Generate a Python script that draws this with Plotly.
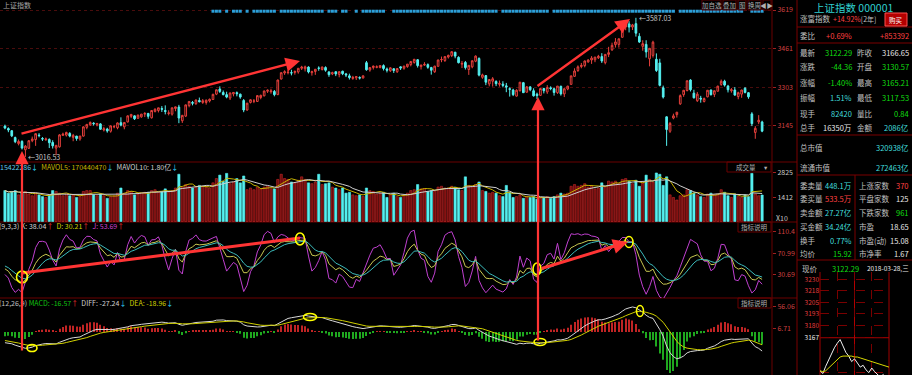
import plotly.graph_objects as go
import pandas as pd

W, H = 912, 375
FONT = "Noto Sans CJK SC, DejaVu Sans, sans-serif"

# ---------------- data ----------------
opens = [3143, 3133, 3124, 3096, 3071, 3080, 3046, 3052, 3083, 3088,
         3106, 3092, 3087, 3088, 3076, 3053, 3058, 3105, 3106, 3113,
         3097, 3102, 3090, 3102, 3138, 3148, 3155, 3148, 3152, 3127,
         3131, 3122, 3140, 3136, 3157, 3140, 3160, 3183, 3185, 3175,
         3181, 3192, 3195, 3177, 3203, 3207, 3215, 3207, 3195, 3192,
         3215, 3221, 3165, 3184, 3227, 3240, 3235, 3248, 3240, 3240,
         3246, 3252, 3274, 3295, 3281, 3272, 3258, 3275, 3280, 3274,
         3248, 3209, 3240, 3245, 3244, 3260, 3267, 3286, 3284, 3285,
         3272, 3336, 3361, 3362, 3362, 3363, 3365, 3380, 3378, 3385,
         3362, 3367, 3381, 3375, 3383, 3365, 3357, 3366, 3355, 3368,
         3357, 3349, 3338, 3341, 3342, 3340, 3403, 3373, 3383, 3384,
         3383, 3391, 3377, 3370, 3378, 3366, 3386, 3380, 3387, 3395,
         3404, 3415, 3387, 3393, 3395, 3383, 3366, 3388, 3415, 3412,
         3426, 3432, 3446, 3425, 3397, 3404, 3375, 3386, 3409, 3420,
         3343, 3350, 3316, 3327, 3326, 3314, 3315, 3308, 3296, 3291,
         3266, 3288, 3321, 3282, 3304, 3288, 3274, 3269, 3297, 3283,
         3300, 3296, 3280, 3306, 3275, 3295, 3314, 3347, 3371, 3387,
         3391, 3406, 3414, 3415, 3423, 3428, 3403, 3437, 3456, 3477,
         3478, 3507, 3549, 3562, 3549, 3563, 3511, 3470, 3478, 3419,
         3433, 3417, 3402, 3300, 3181, 3122, 3176, 3190, 3234, 3272,
         3289, 3332, 3278, 3247, 3257, 3244, 3263, 3291, 3273, 3286,
         3314, 3327, 3307, 3288, 3291, 3264, 3274, 3298, 3280, 3193,
         3117, 3160, 3160]
highs = [3149, 3138, 3127, 3100, 3088, 3085, 3065, 3086, 3100, 3113,
         3114, 3098, 3096, 3093, 3085, 3066, 3110, 3116, 3120, 3118,
         3111, 3103, 3103, 3142, 3151, 3162, 3159, 3155, 3155, 3140,
         3136, 3146, 3148, 3158, 3179, 3158, 3187, 3191, 3187, 3190,
         3193, 3200, 3197, 3208, 3216, 3218, 3225, 3228, 3208, 3219,
         3223, 3230, 3189, 3231, 3245, 3246, 3252, 3260, 3254, 3252,
         3256, 3276, 3293, 3306, 3289, 3284, 3280, 3282, 3285, 3276,
         3254, 3238, 3253, 3254, 3270, 3272, 3288, 3293, 3296, 3291,
         3333, 3363, 3372, 3374, 3374, 3371, 3380, 3390, 3391, 3388,
         3370, 3377, 3388, 3387, 3388, 3368, 3366, 3367, 3367, 3370,
         3361, 3358, 3349, 3347, 3347, 3351, 3410, 3384, 3391, 3392,
         3392, 3396, 3383, 3384, 3381, 3380, 3388, 3390, 3397, 3408,
         3418, 3418, 3395, 3405, 3400, 3386, 3390, 3415, 3428, 3428,
         3436, 3450, 3447, 3429, 3410, 3410, 3393, 3411, 3433, 3425,
         3358, 3352, 3334, 3344, 3331, 3330, 3327, 3320, 3302, 3296,
         3294, 3324, 3324, 3307, 3305, 3298, 3280, 3298, 3300, 3311,
         3306, 3300, 3307, 3309, 3298, 3308, 3349, 3380, 3392, 3402,
         3412, 3417, 3430, 3426, 3435, 3442, 3437, 3468, 3485, 3504,
         3501, 3547, 3567, 3573, 3562, 3587.03, 3524, 3495, 3495, 3463,
         3493, 3441, 3419, 3309, 3183, 3160, 3194, 3200, 3273, 3291,
         3329, 3335, 3292, 3283, 3267, 3260, 3291, 3293, 3289, 3308,
         3334, 3333, 3312, 3299, 3303, 3284, 3292, 3303, 3282, 3200,
         3143, 3188, 3165]
lows = [3130, 3118, 3098, 3073, 3064, 3047, 3016.53, 3049, 3077, 3062,
        3097, 3082, 3083, 3053, 3051, 3023, 3055, 3103, 3100, 3097,
        3081, 3083, 3083, 3100, 3130, 3144, 3145, 3142, 3128, 3121,
        3116, 3116, 3134, 3130, 3142, 3130, 3158, 3176, 3168, 3173,
        3177, 3180, 3173, 3174, 3199, 3199, 3201, 3191, 3187, 3186,
        3204, 3155, 3156, 3180, 3220, 3228, 3230, 3240, 3234, 3231,
        3240, 3250, 3270, 3279, 3269, 3257, 3250, 3265, 3265, 3255,
        3200, 3206, 3236, 3237, 3242, 3253, 3265, 3279, 3276, 3265,
        3270, 3334, 3353, 3355, 3351, 3354, 3358, 3373, 3367, 3359,
        3350, 3353, 3370, 3371, 3366, 3345, 3352, 3348, 3343, 3352,
        3344, 3334, 3333, 3332, 3334, 3339, 3370, 3366, 3375, 3380,
        3380, 3371, 3363, 3365, 3361, 3361, 3373, 3374, 3382, 3388,
        3399, 3383, 3375, 3390, 3378, 3354, 3361, 3388, 3405, 3406,
        3420, 3426, 3421, 3400, 3381, 3375, 3353, 3380, 3405, 3347,
        3337, 3311, 3306, 3305, 3307, 3305, 3302, 3282, 3264, 3266,
        3264, 3285, 3279, 3280, 3286, 3264, 3254, 3268, 3277, 3275,
        3290, 3268, 3275, 3268, 3262, 3290, 3314, 3345, 3365, 3380,
        3384, 3403, 3398, 3405, 3418, 3402, 3396, 3426, 3451, 3465,
        3465, 3507, 3536, 3527, 3537, 3510, 3484, 3452, 3424, 3388,
        3424, 3365, 3306, 3256, 3062, 3115, 3171, 3178, 3230, 3263,
        3285, 3285, 3256, 3242, 3239, 3240, 3261, 3268, 3262, 3285,
        3308, 3305, 3281, 3280, 3268, 3253, 3259, 3277, 3255, 3143,
        3091, 3151, 3118]
closes = [3135, 3127, 3103, 3079, 3080, 3053, 3061, 3083, 3090, 3112,
          3104, 3090, 3090, 3075, 3062, 3064, 3107, 3110, 3117, 3102,
          3105, 3092, 3102, 3140, 3150, 3158, 3153, 3154, 3130, 3132,
          3123, 3144, 3141, 3156, 3147, 3158, 3185, 3191, 3173, 3188,
          3192, 3195, 3183, 3207, 3212, 3218, 3212, 3203, 3197, 3218,
          3222, 3176, 3187, 3230, 3244, 3237, 3250, 3243, 3247, 3249,
          3253, 3273, 3292, 3285, 3272, 3262, 3279, 3281, 3276, 3262,
          3209, 3237, 3251, 3246, 3268, 3269, 3287, 3290, 3287, 3272,
          3332, 3362, 3366, 3364, 3361, 3367, 3380, 3385, 3386, 3365,
          3366, 3376, 3380, 3385, 3372, 3354, 3362, 3357, 3366, 3358,
          3353, 3342, 3343, 3346, 3340, 3349, 3374, 3383, 3389, 3386,
          3391, 3379, 3372, 3382, 3371, 3379, 3381, 3389, 3397, 3408,
          3417, 3391, 3393, 3396, 3384, 3372, 3389, 3414, 3416, 3428,
          3433, 3448, 3430, 3403, 3400, 3383, 3392, 3411, 3430, 3352,
          3353, 3323, 3334, 3337, 3317, 3318, 3310, 3303, 3294, 3272,
          3290, 3323, 3280, 3304, 3292, 3267, 3268, 3297, 3288, 3301,
          3297, 3281, 3307, 3275, 3296, 3307, 3349, 3369, 3386, 3392,
          3410, 3414, 3422, 3426, 3429, 3410, 3437, 3444, 3474, 3488,
          3501, 3547, 3560, 3549, 3558, 3524, 3488, 3481, 3447, 3462,
          3487, 3371, 3310, 3262, 3129, 3154, 3185, 3200, 3268, 3290,
          3329, 3292, 3259, 3274, 3254, 3256, 3290, 3272, 3288, 3307,
          3327, 3311, 3292, 3292, 3270, 3280, 3291, 3281, 3263, 3153,
          3134, 3167, 3122.29]
volumes = [1800, 1650, 1750, 1800, 1550, 1700, 1750, 1600, 1500, 1650,
           1550, 1450, 1400, 1550, 1800, 1750, 1650, 1500, 1600, 1500,
           1550, 1400, 1450, 1750, 1800, 1800, 1550, 1500, 1600, 1500,
           1350, 1450, 1500, 1650, 1950, 1650, 1800, 1750, 1550, 1600,
           1650, 1700, 1700, 1800, 1850, 1700, 1750, 1900, 1700, 1800,
           1950, 2750, 2000, 2150, 2050, 1950, 2000, 2100, 2050, 2000,
           1950, 2250, 2500, 2700, 2350, 2800, 2200, 2300, 2500, 2250,
           2650, 1850, 1950, 1850, 2000, 1900, 2000, 2050, 1900, 1900,
           2450, 2750, 2500, 2450, 2300, 2250, 2400, 2600, 2450, 2250,
           2200, 2300, 2750, 2150, 2200, 2250, 2000, 1950, 1850, 1950,
           1650, 1700, 1550, 1500, 1550, 1450, 1950, 1800, 1750, 1600,
           1650, 1700, 1400, 1550, 1650, 1450, 1400, 1550, 1650, 1800,
           1850, 2150, 1900, 1900, 1750, 1800, 1750, 2000, 2050, 1950,
           1950, 2050, 2000, 1850, 1800, 2600, 2100, 2000, 2150, 2300,
           1800, 1750, 1650, 1700, 1650, 1500, 1450, 2100, 1700, 1400,
           1450, 1550, 1350, 1450, 1400, 1450, 1300, 1350, 1400, 1450,
           1350, 1450, 1550, 1650, 1600, 1650, 2050, 2150, 2050, 2100,
           2200, 2000, 2100, 1900, 1950, 2250, 2000, 2350, 2300, 2350,
           2200, 2450, 2500, 2350, 2200, 2400, 2050, 2250, 2700, 2450,
           2300, 2825, 2750, 2100, 2600, 1550, 1400, 1250, 1500, 1550,
           1850, 1800, 1650, 1550, 1450, 1400, 1600, 1650, 1550, 1600,
           1850, 1700, 1500, 1400, 1600, 1450, 1400, 1550, 1450, 2800,
           1600, 1500, 1542]
# runs of bars carrying the blue signal dot along the top edge
signal_runs = [(61, 63), (65, 65), (67, 69), (71, 71), (73, 79), (81, 93),
               (95, 97), (99, 100), (103, 103), (105, 111), (114, 144),
               (146, 159), (161, 196), (198, 216), (219, 222)]
SIGNAL_LEVEL = 3614
# indicator starting states read from the left edge of the lower panels
MACD_SEED = dict(ema12=3158.0, ema26=3182.0, dea=-18.0)
KDJ_SEED = dict(k=50.0, d=50.0)

# intraday mini chart (minutes after open, price, average price)
intraday_min = [0, 10, 20, 30, 40, 50, 60, 70, 80, 90, 100, 110, 120,
                130, 140, 150, 160, 170, 180, 190, 200, 210, 220, 230, 240]
intraday_px = [3131, 3128, 3136, 3143, 3150, 3156, 3161, 3165, 3158, 3151,
               3147, 3141, 3144, 3139, 3135, 3137, 3132, 3129, 3134, 3130,
               3127, 3124, 3127, 3121, 3122]
intraday_avg = [3131, 3130, 3131, 3134, 3137, 3140, 3143, 3146, 3147, 3147,
                3147, 3147, 3146, 3146, 3145, 3144, 3143, 3142, 3141, 3140,
                3139, 3138, 3137, 3136, 3135]

price_ticks = [3145, 3303, 3461, 3619]
vol_ticks = [1412, 2825]
kdj_ticks = [30.69, 70.99, 110.4]
macd_ticks = [6.71, 56.06]
mini_ticks = [3129, 3167, 3180, 3193, 3205, 3218, 3230]
mini_pct = ["1.19%", "0.00%", "0.42%", "0.82%", "1.22%", "1.62%", "2.00%"]

# ---------------- derived series ----------------
n = len(closes)
idx = list(range(n))
up = [c >= o for o, c in zip(opens, closes)]
vs = pd.Series(volumes, dtype=float)
mavol5 = vs.rolling(5, min_periods=1).mean().tolist()
mavol10 = vs.rolling(10, min_periods=1).mean().tolist()

K, D, J = [], [], []
k, d = KDJ_SEED["k"], KDJ_SEED["d"]
for i in range(n):
    lo = min(lows[max(0, i - 8):i + 1])
    hi = max(highs[max(0, i - 8):i + 1])
    rsv = (closes[i] - lo) / (hi - lo) * 100 if hi > lo else 50.0
    k = (2 * k + rsv) / 3
    d = (2 * d + k) / 3
    K.append(k); D.append(d); J.append(3 * k - 2 * d)

DIFF, DEA, MACD = [], [], []
e12, e26, dea = MACD_SEED["ema12"], MACD_SEED["ema26"], MACD_SEED["dea"]
for c in closes:
    e12 += 2 / 13 * (c - e12)
    e26 += 2 / 27 * (c - e26)
    diff = e12 - e26
    dea += 2 / 10 * (diff - dea)
    DIFF.append(diff); DEA.append(dea); MACD.append(2 * (diff - dea))

sig_x = [i for a, b in signal_runs for i in range(a, b + 1)]

# ---------------- figure ----------------
RED_C = "#e8403c"
CYAN_C = "#54f0f0"
fig = go.Figure()
fig.add_trace(go.Candlestick(
    x=idx, open=opens, high=highs, low=lows, close=closes,
    increasing=dict(line=dict(color=RED_C, width=1), fillcolor="#000000"),
    decreasing=dict(line=dict(color=CYAN_C, width=1), fillcolor=CYAN_C),
    whiskerwidth=0, xaxis="x", yaxis="y", hoverinfo="skip", showlegend=False))
fig.add_trace(go.Scatter(
    x=sig_x, y=[SIGNAL_LEVEL] * len(sig_x), mode="markers",
    marker=dict(symbol="square", size=3, color="#2c9fd8"),
    xaxis="x", yaxis="y", hoverinfo="skip", showlegend=False))

fig.add_trace(go.Bar(
    x=idx, y=volumes, width=0.66,
    marker=dict(color=["#6c0c0c" if u else CYAN_C for u in up],
                line=dict(color=["#c82828" if u else CYAN_C for u in up], width=0.6)),
    xaxis="x", yaxis="y2", hoverinfo="skip", showlegend=False))
fig.add_trace(go.Scatter(x=idx, y=mavol5, mode="lines", line=dict(color="#c8b400", width=1),
                         xaxis="x", yaxis="y2", hoverinfo="skip", showlegend=False))
fig.add_trace(go.Scatter(x=idx, y=mavol10, mode="lines", line=dict(color="#cfcfcf", width=1),
                         xaxis="x", yaxis="y2", hoverinfo="skip", showlegend=False))

fig.add_trace(go.Scatter(x=idx, y=J, mode="lines", line=dict(color="#c040d0", width=1),
                         xaxis="x", yaxis="y3", hoverinfo="skip", showlegend=False))
fig.add_trace(go.Scatter(x=idx, y=K, mode="lines", line=dict(color="#c8c850", width=1),
                         xaxis="x", yaxis="y3", hoverinfo="skip", showlegend=False))
fig.add_trace(go.Scatter(x=idx, y=D, mode="lines", line=dict(color="#3cbcbc", width=1),
                         xaxis="x", yaxis="y3", hoverinfo="skip", showlegend=False))

fig.add_trace(go.Bar(
    x=idx, y=MACD, width=0.3,
    marker=dict(color=["#c02424" if m >= 0 else "#1fa81f" for m in MACD], line=dict(width=0)),
    xaxis="x", yaxis="y4", hoverinfo="skip", showlegend=False))
fig.add_trace(go.Scatter(x=idx, y=DIFF, mode="lines", line=dict(color="#d8d8d8", width=1),
                         xaxis="x", yaxis="y4", hoverinfo="skip", showlegend=False))
fig.add_trace(go.Scatter(x=idx, y=DEA, mode="lines", line=dict(color="#d0d000", width=1),
                         xaxis="x", yaxis="y4", hoverinfo="skip", showlegend=False))

fig.add_trace(go.Scatter(x=intraday_min, y=intraday_px, mode="lines", line=dict(color="#f0f0f0", width=1),
                         xaxis="x2", yaxis="y5", hoverinfo="skip", showlegend=False))
fig.add_trace(go.Scatter(x=intraday_min, y=intraday_avg, mode="lines", line=dict(color="#d8d800", width=1),
                         xaxis="x2", yaxis="y5", hoverinfo="skip", showlegend=False))


def fy(y):
    return 1 - y / H


def fx(x):
    return x / W


PLOT_R = 772
axis_common = dict(anchor="x", side="right", ticks="outside", ticklen=3, tickcolor="#a02020",
                   zeroline=False, showline=False, fixedrange=True,
                   tickfont=dict(size=7, color="#d04040", family=FONT))


def mini_text(vals, labels):
    out = []
    for v, t in zip(vals, labels):
        col = "#e03c3c" if v > 3167 else ("#e8e8e8" if v == 3167 else "#20d020")
        out.append(f"<span style='color:{col}'>{t}</span>")
    return out


fig.update_layout(
    width=W, height=H, margin=dict(l=0, r=0, t=0, b=0),
    paper_bgcolor="#000000", plot_bgcolor="#000000",
    font=dict(family=FONT, color="#c0c0c0", size=8),
    barmode="overlay", showlegend=False, hovermode=False,
    xaxis=dict(domain=[0, fx(PLOT_R)], range=[-1.45, 224.9], anchor="y4", visible=False,
               rangeslider=dict(visible=False), fixedrange=True),
    yaxis=dict(domain=[fy(162), 1], range=[2995.8, 3660], tickvals=price_ticks,
               showgrid=True, gridcolor="#4a0c0c", griddash="dot", **axis_common),
    yaxis2=dict(domain=[fy(222), fy(162)], range=[-29, 3463], tickvals=vol_ticks, showgrid=False,
                **{**axis_common, "tickfont": dict(size=7, color="#c8c8c8", family=FONT)}),
    yaxis3=dict(domain=[fy(298), fy(222)], range=[-11.96, 128.9], tickvals=kdj_ticks,
                ticktext=["30.69", "70.99", "110.4"], showgrid=False, **axis_common),
    yaxis4=dict(domain=[0, fy(298)], range=[-96.5, 76.2], tickvals=macd_ticks,
                ticktext=["6.71", "56.06"], showgrid=False, **axis_common),
    xaxis2=dict(domain=[fx(820), fx(889)], range=[0, 240], anchor="y5", tickvals=[0, 60, 120, 180, 240],
                showgrid=True, gridcolor="#7a0000", griddash="dash", showticklabels=False,
                zeroline=False, showline=False, ticks="", fixedrange=True),
    yaxis5=dict(domain=[0, fy(272)], range=[3126.4, 3238.6], anchor="x2", side="left",
                tickvals=mini_ticks, ticktext=mini_text(mini_ticks, [str(v) for v in mini_ticks]),
                showgrid=True, gridcolor="#7a0000", griddash="dash", zeroline=False, ticks="",
                tickfont=dict(size=6.5, family=FONT), fixedrange=True),
    yaxis6=dict(overlaying="y5", anchor="x2", side="right", range=[3126.4, 3238.6],
                tickvals=mini_ticks, ticktext=mini_text(mini_ticks, mini_pct), showgrid=False,
                zeroline=False, ticks="", tickfont=dict(size=6.5, family=FONT), fixedrange=True),
)

# ---------------- frame lines ----------------
SEP = "#6a0000"


def seg(x0, y0, x1, y1, color=SEP, width=1, layer="below", dash=None):
    fig.add_shape(type="line", xref="paper", yref="paper", x0=fx(x0), y0=fy(y0), x1=fx(x1), y1=fy(y1),
                  line=dict(color=color, width=width, dash=dash), layer=layer)


for yy in (162, 222, 298):
    seg(0, yy, 797, yy)
seg(PLOT_R, 0, PLOT_R, 375)
seg(797, 0, 797, 375, color="#7a0000")
for yy in (27, 43, 135, 175, 260):
    seg(797, yy, 912, yy, color="#7a0000")
seg(855, 175, 855, 260, color="#7a0000")
# mini chart solid frame
seg(820, 272, 820, 375, color="#a00000")
seg(889, 272, 889, 375, color="#a00000")
seg(854.5, 272, 854.5, 375, color="#b00000")
fig.add_shape(type="line", xref="x2", yref="y5", x0=0, x1=240, y0=3167, y1=3167,
              line=dict(color="#b00000", width=1), layer="below")


def box(x0, y0, x1, y1, color=SEP, fill=None):
    fig.add_shape(type="rect", xref="paper", yref="paper", x0=fx(x0), y0=fy(y0), x1=fx(x1), y1=fy(y1),
                  line=dict(color=color, width=1), fillcolor=fill, layer="above")


def txt(x, y, s, color="#c0c0c0", size=8, anchor="left"):
    fig.add_annotation(x=fx(x), y=fy(y), xref="paper", yref="paper", text=s, showarrow=False,
                       xanchor=anchor, yanchor="middle", borderpad=0,
                       font=dict(size=size, color=color, family=FONT))


def span(s, c):
    return f"<span style='color:{c}'>{s}</span>"


LBL = "#c0c0c0"
RED = "#ff4040"
GRN = "#10dd10"
CYN = "#40dede"
WHT = "#e8e8e8"
UP_A = span("↑", "#ff3030")
DN_A = span("↓", "#30d8ff")

# chart-area labels
txt(2, 5, "上证指数", "#a8a8a8", 7)
for (a, b, s) in [(702, 721, "加自选"), (723, 736, "叠加"), (738, 746, "图"), (748, 761, "换周"), (763, 771, "◀▶")]:
    box(a, 0, b, 10, color="#5a0000")
    txt((a + b) / 2, 5, s, "#b0b0b0", 6.5, "center")
txt(-1, 167, span("15422286", "#60c8e8") + DN_A + "  " + span("MAVOL5: 170440470", "#c8b400") + DN_A
    + "  " + span("MAVOL10: 1.80亿", "#cfcfcf") + DN_A, size=7)
box(727, 162, 771, 172, color="#6a0000")
txt(746, 167, "成交量", "#b0b0b0", 6.5, "center")
txt(766, 167, "▾", "#b0b0b0", 6.5, "center")
txt(-2, 226, span("(9,3,3) K: 38.04", "#d0d0d0") + UP_A + "  " + span("D: 30.21", "#d0d000") + UP_A
    + "  " + span("J: 53.69", "#d040d0") + UP_A, size=7)
box(738, 222, 771, 232, color="#6a0000")
txt(754.5, 227, "指标说明", "#b0b0b0", 6.5, "center")
txt(-2, 303, span("(12,26,9)", "#c0c0c0") + " " + span("MACD: -16.57", "#10c010") + UP_A + "  "
    + span("DIFF: -27.24", "#d0d0d0") + DN_A + "  " + span("DEA: -18.96", "#d0d000") + DN_A, size=7)
box(738, 298, 771, 308, color="#6a0000")
txt(754.5, 303, "指标说明", "#b0b0b0", 6.5, "center")
txt(775, 218, "X10", "#c8c8c8", 7)

# extreme price labels tied to the data
lo_i = lows.index(min(lows))
hi_i = highs.index(max(highs))
fig.add_annotation(x=lo_i, y=min(lows), xref="x", yref="y", text=f"←{min(lows):.2f}", showarrow=False,
                   xanchor="left", yanchor="middle", xshift=1, font=dict(size=7, color="#c8c8c8", family=FONT))
fig.add_annotation(x=hi_i, y=max(highs), xref="x", yref="y", text=f"←{max(highs):.2f}", showarrow=False,
                   xanchor="left", yanchor="middle", xshift=1, font=dict(size=7, color="#c8c8c8", family=FONT))

# ---------------- info panel ----------------
PF = 7.5
txt(853, 7, "上证指数 000001", "#30d0d0", 10.5, "center")
txt(799, 19, "涨富指数", LBL, PF)
txt(832, 19, span("+14.92%", RED) + span("[2年]", LBL), size=7)
box(885, 13, 907, 26, color="#ff5050", fill="#b40000")
txt(896, 19.5, "购买", "#ffffff", 6.5, "center")
txt(799, 35, "委比", LBL, PF)
txt(853, 35, "+0.69%", RED, PF, "right")
txt(910, 35, "+853392", RED, PF, "right")

rows1 = [(52, "最新", "3122.29", GRN, "昨收", "3166.65", WHT),
         (67, "涨跌", "-44.36", GRN, "开盘", "3130.57", GRN),
         (82, "涨幅", "-1.40%", GRN, "最高", "3165.21", GRN),
         (98, "振幅", "1.51%", CYN, "最低", "3117.53", GRN),
         (113, "现手", "82420", CYN, "量比", "0.84", GRN),
         (128, "总手", "16350万", WHT, "金额", "2086亿", CYN)]
for (y, l1, v1, c1, l2, v2, c2) in rows1:
    txt(799, y, l1, LBL, PF)
    txt(853, y, v1, c1, PF, "right")
    txt(856, y, l2, LBL, PF)
    txt(910, y, v2, c2, PF, "right")
txt(799, 147, "总市值", LBL, PF)
txt(910, 147, "320938亿", CYN, PF, "right")
txt(799, 167, "流通市值", LBL, PF)
txt(910, 167, "272463亿", CYN, PF, "right")
rows2 = [(185, "委卖量", "448.1万", CYN, "上涨家数", "370", RED),
         (198, "委买量", "533.5万", RED, "平盘家数", "125", WHT),
         (212, "卖金额", "27.27亿", CYN, "下跌家数", "961", GRN),
         (226, "买金额", "34.24亿", CYN, "市盈", "18.65", WHT),
         (240, "换手", "0.77%", CYN, "市盈(动)", "15.08", WHT),
         (253, "均价", "15.92", GRN, "市净率", "1.67", WHT)]
for (y, l1, v1, c1, l2, v2, c2) in rows2:
    txt(799, y, l1, LBL, PF)
    txt(853, y, v1, c1, PF, "right")
    txt(858, y, l2, LBL, PF)
    txt(910, y, v2, c2, PF, "right")
txt(801, 268, "现价", LBL, PF)
txt(831, 268, "3122.29", GRN, PF)
txt(910, 268, "2018-03-28,三", WHT, 6.5, "right")

# ---------------- hand-drawn markup ----------------
ARW = "#ff3434"


def arrow(tx, ty, hx, hy, width=2.2, head=1.1):
    fig.add_annotation(x=fx(hx), y=fy(hy), xref="paper", yref="paper", ax=tx - hx, ay=ty - hy,
                       axref="pixel", ayref="pixel", text="", showarrow=True, arrowhead=2,
                       arrowsize=head, arrowwidth=width, arrowcolor=ARW, standoff=0)


arrow(22, 352, 22, 151, 2.2, 1.2)
arrow(20, 134, 300, 61, 2.4, 1.2)
arrow(538, 342, 538, 97, 2.2, 1.2)
arrow(536, 87, 630, 19, 2.4, 1.2)
seg(22, 273, 300, 238, color=ARW, width=3, layer="above")
arrow(540, 269, 628, 242, 3, 1.0)


def ellipse(cx, cy, w, h):
    fig.add_shape(type="circle", xref="paper", yref="paper", x0=fx(cx - w / 2), x1=fx(cx + w / 2),
                  y0=fy(cy + h / 2), y1=fy(cy - h / 2), line=dict(color="#ffff00", width=1.6), layer="above")


ellipse(22, 277, 11, 12)
ellipse(300, 239, 9, 12)
ellipse(537, 269, 8, 12)
ellipse(629, 242, 8, 11)
ellipse(32, 348, 10, 7)
ellipse(310, 317, 13, 7)
ellipse(540, 342, 12, 7)
ellipse(640, 311, 7, 11)

fig.write_html("out.html", config={"displayModeBar": False},
               post_script="document.body.style.margin='0';document.body.style.overflow='hidden';")
